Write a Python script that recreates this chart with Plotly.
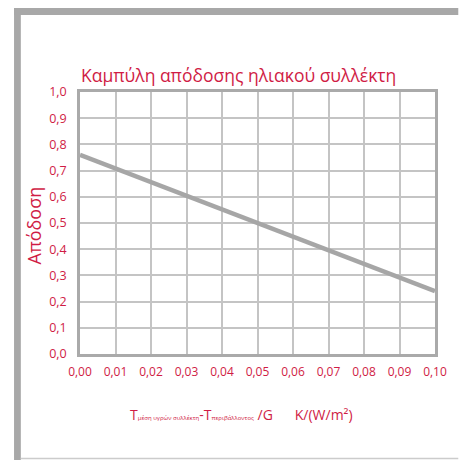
import plotly.graph_objects as go

# Data
x_values = [0.00, 0.10]
efficiency = [0.76, 0.24]
x_ticks = [0.00, 0.01, 0.02, 0.03, 0.04, 0.05, 0.06, 0.07, 0.08, 0.09, 0.10]
y_ticks = [0.0, 0.1, 0.2, 0.3, 0.4, 0.5, 0.6, 0.7, 0.8, 0.9, 1.0]

RED = "#d01c45"
GRID = "#c4c4c4"
FRAME = "#a8a8a8"
FONT = "Open Sans"

W, H = 459, 460
L, T = 80, 92
R = 459 - 446
B = 460 - 354
PW = W - L - R
PH = H - T - B

def px(xp):
    return (xp - L) / PW

def py(yp):
    return (H - B - yp) / PH

fig = go.Figure()
fig.add_trace(go.Scatter(
    x=x_values, y=efficiency, mode="lines",
    line=dict(color="#a6a6a6", width=4.5),
    hoverinfo="skip", showlegend=False,
))

fig.update_layout(
    width=W, height=H,
    margin=dict(l=L, r=R, t=T, b=B),
    paper_bgcolor="white", plot_bgcolor="white",
    separators=",.",
    font=dict(family=FONT, color=RED, size=12),
    xaxis=dict(
        range=[0, 0.10], tickvals=x_ticks, tickformat=".2f",
        showgrid=True, gridcolor=GRID, gridwidth=1.5,
        showline=True, linecolor="#aaaaaa", linewidth=2.5, mirror=True,
        ticks="", ticklabelstandoff=5, zeroline=False,
        tickfont=dict(family=FONT, color=RED, size=12),
    ),
    yaxis=dict(
        range=[0, 1.0], tickvals=y_ticks, tickformat=".1f",
        showgrid=True, gridcolor=GRID, gridwidth=1.5,
        showline=True, linecolor="#aaaaaa", linewidth=2.5, mirror=True,
        ticks="", ticklabelstandoff=8, zeroline=False,
        tickfont=dict(family=FONT, color=RED, size=12.5),
    ),
    shapes=[
        dict(type="rect", xref="paper", yref="paper",
             x0=px(12), x1=px(19), y0=py(470), y1=py(8),
             fillcolor=FRAME, line=dict(width=0), layer="above"),
        dict(type="rect", xref="paper", yref="paper",
             x0=px(12), x1=px(470), y0=py(15), y1=py(8),
             fillcolor=FRAME, line=dict(width=0), layer="above"),
        dict(type="line", xref="paper", yref="paper",
             x0=px(19), x1=px(470), y0=py(458.5), y1=py(458.5),
             line=dict(color="#cccccc", width=1.5), layer="above"),
    ],
    annotations=[
        dict(text="Καμπύλη απόδοσης ηλιακού συλλέκτη",
             xref="paper", yref="paper", x=px(79), y=py(75),
             xanchor="left", yanchor="middle", showarrow=False,
             font=dict(family=FONT, color=RED, size=17.5)),
        dict(text="Απόδοση", textangle=-90,
             xref="paper", yref="paper", x=px(33), y=py(225),
             xanchor="center", yanchor="middle", showarrow=False,
             font=dict(family=FONT, color=RED, size=18)),
        dict(text="T<span style='font-size:6px'>μέση υγρών συλλέκτη</span>-T"
                  "<span style='font-size:6px'>περιβάλλοντος</span> /G"
                  "      K/(W/m²)",
             xref="paper", yref="paper", x=px(130), y=py(415),
             xanchor="left", yanchor="middle", showarrow=False,
             font=dict(family=FONT, color=RED, size=14)),
    ],
)

fig.write_html(
    "out.html",
    config={"displayModeBar": False},
    post_script="document.body.style.margin='0px';"
                "document.body.style.overflow='hidden';",
)
